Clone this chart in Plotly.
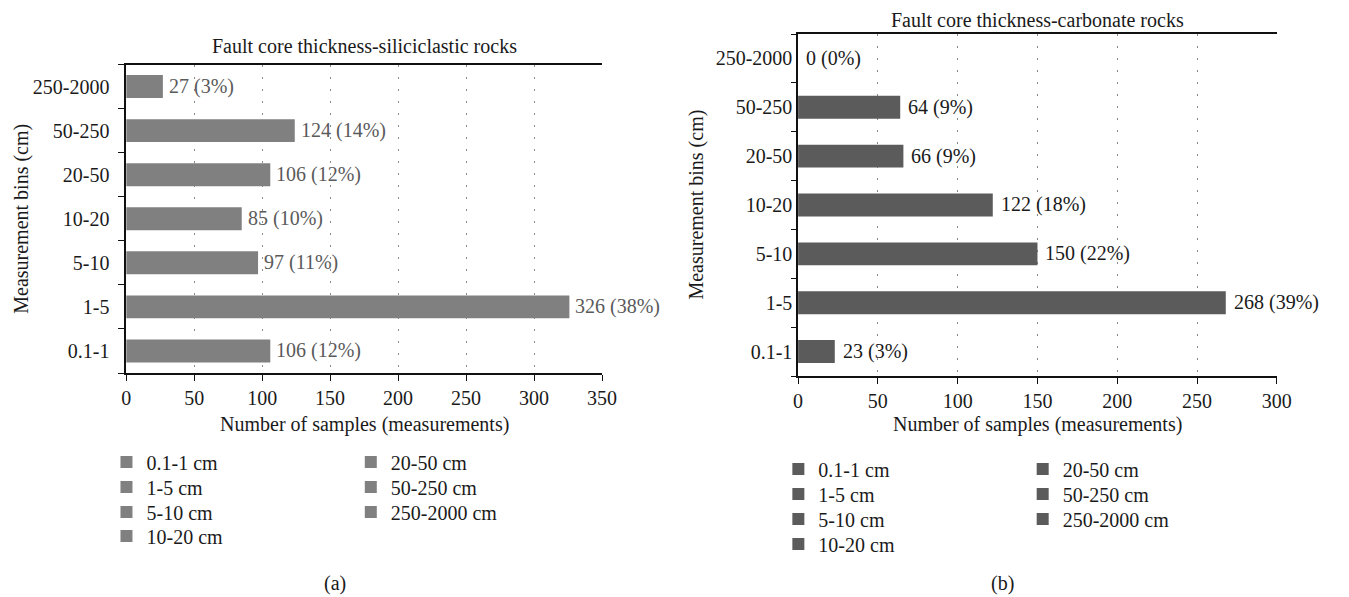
import plotly.graph_objects as go

# Measurement bins (bottom to top on the y axis)
bins = ["0.1-1", "1-5", "5-10", "10-20", "20-50", "50-250", "250-2000"]

# Siliciclastic rocks
silic_counts = [106, 326, 97, 85, 106, 124, 27]
silic_pct = [12, 38, 11, 10, 12, 14, 3]

# Carbonate rocks
carb_counts = [23, 268, 150, 122, 66, 64, 0]
carb_pct = [3, 39, 22, 18, 9, 9, 0]

W, H = 1349, 597
FONT = "Liberation Serif"
FS = 20


def px(x):
    return x / W


def py(y):
    return 1 - y / H


fig = go.Figure()

panels = [
    dict(xa="x", ya="y", counts=silic_counts, pct=silic_pct, color="#808080",
         label_color="#5a5a5a", width=0.52, shift=4,
         legend_cols=[(103, [462, 487, 512, 536]), (351, [462, 487, 512])],
         lg_offset=0),
    dict(xa="x2", ya="y2", counts=carb_counts, pct=carb_pct, color="#5b5b5b",
         label_color="#1a1a1a", width=0.47, shift=6,
         legend_cols=[(785, [469, 494, 519, 544]), (1033, [469, 494, 519])],
         lg_offset=7),
]

legend_layouts = {}
for p in panels:
    slots = [(cx, cy) for cx, ys in p["legend_cols"] for cy in ys]
    for i, (b, v) in enumerate(zip(bins, p["counts"])):
        n = p["lg_offset"] + i + 1
        lname = "legend" if n == 1 else f"legend{n}"
        fig.add_trace(go.Bar(
            x=[v], y=[b], orientation="h", name=f"{b} cm",
            marker=dict(color=p["color"], line=dict(width=0)),
            width=p["width"], xaxis=p["xa"], yaxis=p["ya"],
            legend=lname, showlegend=True, hoverinfo="skip",
        ))
        cx, cy = slots[i]
        legend_layouts[lname] = dict(
            x=px(cx), y=py(cy), xanchor="left", yanchor="middle",
            bgcolor="rgba(0,0,0,0)", borderwidth=0,
            font=dict(family=FONT, size=FS, color="#1a1a1a"),
        )
    for b, v, pc in zip(bins, p["counts"], p["pct"]):
        fig.add_annotation(
            x=v, y=b, xref=p["xa"], yref=p["ya"], text=f"{v} ({pc}%)",
            showarrow=False, xanchor="left", yanchor="middle",
            xshift=p["shift"],
            font=dict(family=FONT, size=FS, color=p["label_color"]),
        )

axis_common = dict(
    showline=True, linecolor="#111111", linewidth=1.5,
    tickfont=dict(family=FONT, size=FS, color="#1a1a1a"),
)
xgrid = dict(showgrid=True, gridcolor="#8a8a8a", gridwidth=1,
             griddash="2px,10px", zeroline=False, dtick=50, mirror=True,
             ticks="outside", ticklen=6, tickcolor="#111111")
ycat = dict(type="category", categoryorder="array", categoryarray=bins,
            range=[-0.5, 6.5], ticks="outside", tickcolor="#111111",
            tickson="boundaries", showgrid=False, zeroline=False)

fig.update_layout(
    width=W, height=H, margin=dict(l=0, r=0, t=0, b=0),
    paper_bgcolor="white", plot_bgcolor="white", barmode="overlay",
    xaxis=dict(domain=[px(123), px(606)], range=[0, 350], anchor="y",
               **xgrid, **axis_common),
    yaxis=dict(domain=[py(373), py(64.5)], anchor="x", ticklen=6,
               ticklabelstandoff=11, **ycat, **axis_common),
    xaxis2=dict(domain=[px(805), px(1291)], range=[0, 300], anchor="y2",
                **xgrid, **axis_common),
    yaxis2=dict(domain=[py(376), py(34)], anchor="x2", ticklen=5,
                ticklabelstandoff=0, **ycat, **axis_common),
    **legend_layouts,
)

texts = [
    ("Fault core thickness-siliciclastic rocks", 364.5, 46, 0),
    ("Fault core thickness-carbonate rocks", 1048, 20, 0),
    ("Number of samples (measurements)", 364.5, 424, 0),
    ("Number of samples (measurements)", 1048, 424, 0),
    ("Measurement bins (cm)", 17, 219, -90),
    ("Measurement bins (cm)", 702, 205, -90),
    ("(a)", 335, 583, 0),
    ("(b)", 1013, 583, 0),
]
for t, x, y, ang in texts:
    fig.add_annotation(
        x=px(x), y=py(y), xref="paper", yref="paper", text=t,
        showarrow=False, xanchor="center", yanchor="middle", textangle=ang,
        font=dict(family=FONT, size=FS, color="#1a1a1a"),
    )

fig.write_html("out.html")
